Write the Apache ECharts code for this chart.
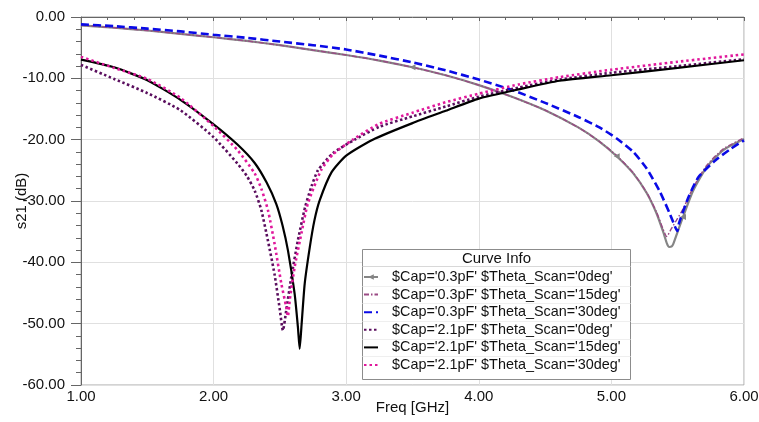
<!DOCTYPE html>
<html>
<head>
<meta charset="utf-8">
<script src="https://cdn.jsdelivr.net/npm/echarts@6/dist/echarts.min.js"></script>
<style>
  html, body { margin: 0; padding: 0; background: #ffffff; }
  #chart { width: 759px; height: 422px; }
</style>
</head>
<body>
<div id="chart"></div>
<script>
// S21 magnitude versus frequency: [freq (GHz), s21 (dB)]
const cap03_0deg = [
  [1.0, -1.35], [1.25, -1.75], [1.5, -2.2], [1.75, -2.75], [2.0, -3.3], [2.25, -3.9],
  [2.5, -4.6], [2.75, -5.4], [3.0, -6.2], [3.25, -7.1], [3.5, -8.2], [3.75, -9.5],
  [4.0, -11.1], [4.25, -13.0], [4.5, -15.2], [4.75, -18.0], [4.91, -20.3], [5.04, -22.7],
  [5.165, -25.5], [5.266, -28.7], [5.34, -32.0], [5.39, -35.0], [5.42, -37.0], [5.436, -37.5],
  [5.455, -37.4], [5.467, -37.0], [5.5, -35.0], [5.54, -32.6], [5.617, -28.3], [5.718, -24.5],
  [5.844, -21.7], [6.0, -19.9]
];
const cap03_15deg = [
  [1.0, -1.35], [1.25, -1.75], [1.5, -2.2], [1.75, -2.75], [2.0, -3.3], [2.25, -3.9],
  [2.5, -4.6], [2.75, -5.4], [3.0, -6.2], [3.25, -7.1], [3.5, -8.2], [3.75, -9.5],
  [4.0, -11.1], [4.25, -13.0], [4.5, -15.2], [4.75, -18.0], [4.91, -20.3], [5.04, -22.6],
  [5.165, -25.4], [5.266, -28.6], [5.34, -31.8], [5.39, -34.6], [5.417, -35.8], [5.45, -34.6],
  [5.5, -32.8], [5.54, -31.3], [5.617, -27.8], [5.718, -24.2], [5.844, -21.5], [6.0, -19.7]
];
const cap03_30deg = [
  [1.0, -1.2], [1.25, -1.5], [1.5, -1.9], [1.75, -2.35], [2.0, -2.9], [2.25, -3.4],
  [2.5, -4.0], [2.75, -4.6], [3.0, -5.3], [3.25, -6.3], [3.5, -7.4], [3.75, -8.7],
  [4.0, -10.2], [4.25, -11.9], [4.5, -14.0], [4.75, -16.3], [4.91, -18.0], [5.04, -19.8],
  [5.165, -22.0], [5.266, -24.7], [5.366, -28.5], [5.441, -32.1], [5.48, -34.2], [5.497, -34.9],
  [5.51, -33.6], [5.581, -29.4], [5.657, -26.1], [5.783, -23.4], [5.9, -21.5], [6.0, -20.1]
];
const cap21_0deg = [
  [1.0, -7.8], [1.25, -10.1], [1.5, -12.4], [1.75, -15.2], [2.0, -19.6], [2.18, -23.9],
  [2.25, -25.9], [2.31, -28.3], [2.36, -31.5], [2.41, -36.5], [2.46, -42.0], [2.498, -47.5],
  [2.523, -51.1], [2.548, -47.8], [2.586, -42.4], [2.636, -36.4], [2.69, -31.0], [2.74, -27.5],
  [2.787, -25.0], [2.9, -22.2], [3.064, -20.0], [3.25, -17.9], [3.5, -16.2], [3.75, -14.6],
  [4.0, -13.0], [4.3, -11.5], [4.61, -10.2], [5.0, -9.1], [5.5, -8.0], [6.0, -6.9]
];
const cap21_15deg = [
  [1.0, -6.95], [1.25, -8.2], [1.5, -10.3], [1.75, -13.5], [2.0, -17.5], [2.18, -20.8],
  [2.31, -23.8], [2.4, -27.0], [2.473, -30.5], [2.52, -34.0], [2.561, -38.1], [2.611, -45.1],
  [2.636, -50.6], [2.649, -54.1], [2.662, -50.6], [2.687, -43.5], [2.725, -37.6], [2.76, -33.2],
  [2.8, -29.9], [2.89, -25.3], [3.0, -22.6], [3.2, -20.0], [3.5, -17.3], [3.75, -15.3],
  [4.0, -13.3], [4.3, -11.8], [4.61, -10.4], [5.0, -9.5], [5.5, -8.3], [6.0, -7.05]
];
const cap21_30deg = [
  [1.0, -6.5], [1.25, -8.3], [1.5, -10.1], [1.75, -13.2], [2.0, -17.8], [2.18, -21.7],
  [2.31, -25.5], [2.36, -28.0], [2.41, -31.5], [2.46, -37.0], [2.511, -43.5], [2.548, -47.3],
  [2.56, -48.8], [2.575, -46.0], [2.611, -40.8], [2.662, -35.3], [2.71, -30.5], [2.81, -25.0],
  [2.9, -22.4], [3.05, -20.0], [3.25, -17.4], [3.5, -15.6], [3.75, -13.9], [4.0, -12.5],
  [4.3, -11.0], [4.61, -9.8], [5.0, -8.6], [5.5, -7.3], [6.0, -6.1]
];

const curveNames = [
  "$Cap='0.3pF' $Theta_Scan='0deg'",
  "$Cap='0.3pF' $Theta_Scan='15deg'",
  "$Cap='0.3pF' $Theta_Scan='30deg'",
  "$Cap='2.1pF' $Theta_Scan='0deg'",
  "$Cap='2.1pF' $Theta_Scan='15deg'",
  "$Cap='2.1pF' $Theta_Scan='30deg'"
];
// points of the 0.3pF/0deg trace that carry a marker
const markerIndices = [10, 17, 27];

const freqMin = 1, freqMax = 6, freqStep = 1;
const dbMin = -60, dbMax = 0, dbStep = 10;
const legendTitle = 'Curve Info';
const xName = 'Freq [GHz]';
const yName = 's21 (dB)';

const FONT = 'Arial, "Liberation Sans", sans-serif';
const chart = echarts.init(document.getElementById('chart'), null, { renderer: 'canvas' });

function withMarkers(points, idxs) {
  return points.map((p, i) => idxs.includes(i) ? { value: p, symbolSize: 6 } : { value: p });
}

function trace(name, data, color, width, dash, extra) {
  return Object.assign({
    name: name,
    type: 'line',
    data: data,
    symbol: 'none',
    smooth: 0.2,
    animation: false,
    lineStyle: { color: color, width: width, type: dash, cap: 'butt' },
    itemStyle: { color: color },
    emphasis: { disabled: true }
  }, extra || {});
}

const plotLeft = 81, plotTop = 17, plotRight = 744, plotBottom = 385;
const boxL = 362.5, boxT = 249.5, boxR = 630.5, boxB = 379.5;
const rowPitch = 17.6, firstRow = 277;

const graphics = [
  { type: 'rect', z: 20, shape: { x: boxL, y: boxT, width: boxR - boxL, height: boxB - boxT },
    style: { fill: '#ffffff', stroke: '#8c8c8c', lineWidth: 1 } },
  { type: 'text', z: 21, x: (boxL + boxR) / 2, y: 259,
    style: { text: legendTitle, font: '15px ' + FONT, fill: '#111111', align: 'center', verticalAlign: 'middle' } },
  { type: 'line', z: 21, shape: { x1: boxL, y1: 266.5, x2: boxR, y2: 266.5 },
    style: { stroke: '#d8d8d8', lineWidth: 1 } }
];
for (let i = 1; i < curveNames.length; i++) {
  const y = Math.round(firstRow + (i - 0.5) * rowPitch) + 0.5;
  graphics.push({ type: 'line', z: 21, shape: { x1: boxL, y1: y, x2: boxR, y2: y },
    style: { stroke: '#efefef', lineWidth: 1 } });
}

chart.setOption({
  backgroundColor: '#ffffff',
  animation: false,
  grid: {
    left: plotLeft, top: plotTop, right: 759 - plotRight, bottom: 422 - plotBottom,
    show: true, borderColor: '#a6a6a6', borderWidth: 1,
    containLabel: false, outerBoundsMode: 'none'
  },
  legend: {
    orient: 'vertical',
    left: 363, top: firstRow - rowPitch / 2,
    padding: 0,
    itemWidth: 14, itemHeight: 7, itemGap: 0,
    selectedMode: false,
    z: 30,
    textStyle: { fontFamily: FONT, fontSize: 14.4, color: '#111111', lineHeight: rowPitch, padding: [0, 0, 0, 9] },
    data: curveNames.map((n, i) => i === 0 ? { name: n } : { name: n, itemStyle: { opacity: 0 } })
  },
  xAxis: {
    type: 'value', min: freqMin, max: freqMax, interval: freqStep,
    name: xName, nameLocation: 'middle', nameGap: 15, nameMoveOverlap: false,
    nameTextStyle: { fontFamily: FONT, fontSize: 15, color: '#111111' },
    axisLine: { lineStyle: { color: '#666666', width: 1 } },
    axisTick: { length: 4, lineStyle: { color: '#666666' } },
    minorTick: { show: true, splitNumber: 5, length: 3, lineStyle: { color: '#666666' } },
    axisLabel: { fontFamily: FONT, fontSize: 15, color: '#111111', margin: 4,
      formatter: v => v.toFixed(2) },
    splitLine: { show: true, lineStyle: { color: '#e0e0e0', width: 1 } }
  },
  yAxis: {
    type: 'value', min: dbMin, max: dbMax, interval: dbStep,
    name: yName, nameLocation: 'middle', nameGap: 52, nameMoveOverlap: false,
    nameTextStyle: { fontFamily: FONT, fontSize: 15, color: '#111111' },
    axisLine: { lineStyle: { color: '#666666', width: 1 } },
    axisTick: { length: 10, lineStyle: { color: '#666666' } },
    minorTick: { show: true, splitNumber: 5, length: 5, lineStyle: { color: '#666666' } },
    axisLabel: { fontFamily: FONT, fontSize: 15, color: '#111111', margin: 16,
      formatter: v => v.toFixed(2) },
    splitLine: { show: true, lineStyle: { color: '#e0e0e0', width: 1 } }
  },
  series: [
    trace(curveNames[0], withMarkers(cap03_0deg, markerIndices), '#858585', 2.2, 'solid',
      { symbol: 'triangle', symbolSize: 0, symbolRotate: 90, showSymbol: true, showAllSymbol: true }),
    trace(curveNames[1], cap03_15deg, '#9a4a84', 1.4, [5, 2, 1.5, 2]),
    trace(curveNames[2], cap03_30deg, '#0a0ae6', 2.6, [8, 4]),
    trace(curveNames[3], cap21_0deg, '#5a0e5e', 2.6, [2.5, 2.5]),
    trace(curveNames[4], cap21_15deg, '#000000', 2.2, 'solid'),
    trace(curveNames[5], cap21_30deg, '#e0189c', 2.6, [2.5, 3])
  ],
  graphic: graphics
});
</script>
</body>
</html>
